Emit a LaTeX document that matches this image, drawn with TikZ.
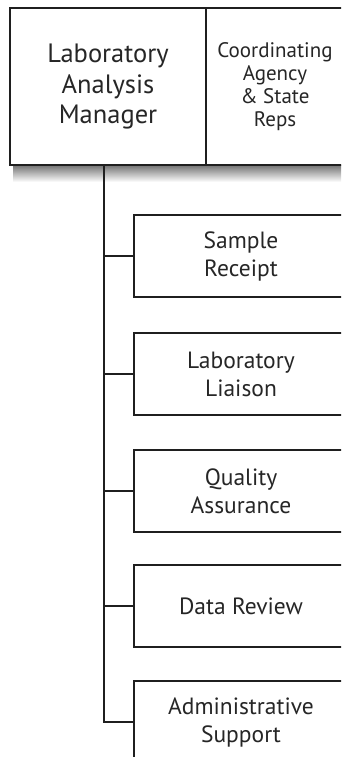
\documentclass[tikz,border=0pt]{standalone}
\usepackage{fontspec}
\setmainfont{PT Sans}
\begin{document}
\begin{tikzpicture}[x=1pt,y=-1pt,
  boxline/.style={draw=black!88,line width=1.6pt,fill=white},
  wire/.style={draw=black!88,line width=1.6pt},
  toptext/.style={align=center,font=\fontsize{26.5}{30.5}\selectfont,text=black!85},
  smalltext/.style={align=center,font=\fontsize{21}{23}\selectfont,text=black!85},
  childtext/.style={align=center,font=\fontsize{23.5}{28}\selectfont,text=black!85}]
\clip (0,0) rectangle (341,757);
\fill[white] (0,0) rectangle (341,757);
% shadow
\shade[top color=black!55,bottom color=white] (13,165) rectangle (360,182);
\draw[boxline] (10,8) rectangle (206,165);
\draw[boxline] (206,8) rectangle (360,165);
\node[toptext] (mgr) at (108,87) {Laboratory\\Analysis\\Manager};
\node[smalltext] (coord) at (275,87) {Coordinating\\Agency\\\& State\\Reps};
\coordinate (trunk) at (104,165);
% child boxes
\foreach \n/\t/\txt in {a/215/{Sample\\Receipt},b/333/{Laboratory\\Liaison},c/450/{Quality\\Assurance},d/565/{Data Review},e/681/{Administrative\\Support}}{
  \draw[boxline] (134,\t) rectangle (350,\t+82);
  \node[childtext] (\n) at (241,\t+41) {\txt};
  \coordinate (\n w) at (134,\t+41);
}
\draw[wire] (trunk) -- (104,722) -- (ew);
\draw[wire] (104,256) -- (aw);
\draw[wire] (104,374) -- (bw);
\draw[wire] (104,491) -- (cw);
\draw[wire] (104,606) -- (dw);
\end{tikzpicture}
\end{document}
